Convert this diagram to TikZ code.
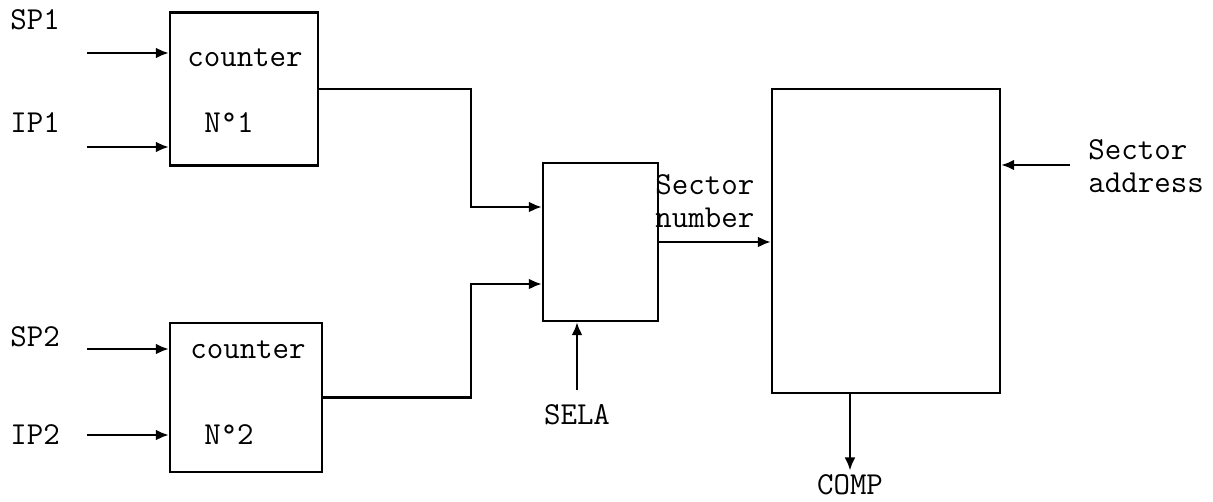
\documentclass[tikz,border=0pt]{standalone}
\usepackage{fontspec}
\usetikzlibrary{arrows.meta}

\begin{document}
\begin{tikzpicture}[x=0.5pt,y=-0.5pt,
  box/.style={draw=black, line width=1.2pt, inner sep=0pt},
  lbl/.style={font=\ttfamily\fontsize{16}{16.5}\selectfont, inner sep=1pt},
  sig/.style={line width=1.2pt, -{Latex[length=6.5pt, width=5.5pt]}},
  wire/.style={line width=1.2pt}]
\useasboundingbox (0,0) rectangle (1213,502);
% blocks
\node[box, minimum width=74pt, minimum height=76.5pt] (cnt1) at (244,89) {};
\node[box, minimum width=76pt, minimum height=74.5pt] (cnt2) at (246,397.5) {};
\node[box, minimum width=57.5pt, minimum height=79pt] (mux) at (600.5,242) {};
\node[box, minimum width=114pt, minimum height=152pt] (cmp) at (886,241) {};
% texts
\node[lbl] (cnt1a) at (245,58) {counter};
\node[lbl] (cnt1b) at (229,123) {N°1};
\node[lbl] (cnt2a) at (248,350) {counter};
\node[lbl] (cnt2b) at (229,435) {N°2};
\node[lbl, anchor=west] (sp1) at (8,20) {SP1};
\node[lbl, anchor=west] (ip1) at (8,123) {IP1};
\node[lbl, anchor=west] (sp2) at (8,337) {SP2};
\node[lbl, anchor=west] (ip2) at (8,435) {IP2};
\node[lbl, anchor=west, align=left] (secnum) at (653,201) {Sector\\number};
\node[lbl, anchor=west, align=left] (secadr) at (1086,166) {Sector\\address};
\node[lbl] (sela) at (577,415) {SELA};
\node[lbl] (comp) at (850,485) {COMP};
% free ends
\coordinate (sp1in) at (87,53);
\coordinate (ip1in) at (87,147);
\coordinate (sp2in) at (87,349);
\coordinate (ip2in) at (87,435);
\coordinate (adrin) at (1070,165);
% connectors
\draw[sig] (sp1in) -- (sp1in -| cnt1.west);
\draw[sig] (ip1in) -- (ip1in -| cnt1.west);
\draw[sig] (sp2in) -- (sp2in -| cnt2.west);
\draw[sig] (ip2in) -- (ip2in -| cnt2.west);
\draw[sig] (cnt1.east) -- ++(152,0) |- ([yshift=17.5pt]mux.west);
\draw[sig] (cnt2.east) -- ++(148,0) |- ([yshift=-21pt]mux.west);
\draw[sig] (mux.east) -- (mux.east -| cmp.west);
\draw[sig] (adrin) -- (adrin -| cmp.east);
\draw[sig] ([yshift=6pt]sela.north) -- (sela.north |- mux.south);
\draw[sig] (comp.north |- cmp.south) -- ([yshift=1pt]comp.north);
\end{tikzpicture}
\end{document}
